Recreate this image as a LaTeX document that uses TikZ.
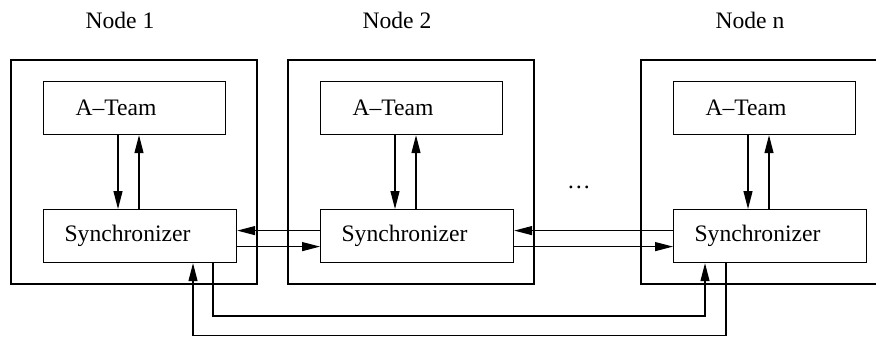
\documentclass[tikz,border=0pt]{standalone}
\usepackage{fontspec}
\setmainfont{Liberation Serif}
\usetikzlibrary{arrows.meta}
\begin{document}
\begin{tikzpicture}[x=0.5pt,y=-0.5pt,
  every node/.style={font=\fontsize{11.8}{14}\selectfont},
  line width=0.6pt,
  arr/.style={-{Triangle[length=9pt,width=4.5pt]}},
  outerbox/.style={draw, minimum width=123pt, minimum height=112pt, inner sep=0pt},
  teambox/.style={draw, anchor=north west, minimum height=26.5pt, text width=59pt, inner xsep=16pt, inner ysep=0pt, align=left},
  syncbox/.style={draw, anchor=north west, minimum height=26.5pt, text width=75.5pt, inner xsep=10.5pt, inner ysep=0pt, align=left},
  title/.style={anchor=base}]
\clip (0,0) rectangle (876,337);
\useasboundingbox (0,0) rectangle (876,337);

% three machines
\foreach \i/\x/\name in {1/43/Node 1, 2/320/Node 2, n/673/Node n}{
  \node[outerbox] (o\i) at ({\x+91},172) {};
  \node[teambox] (a\i) at (\x,81) {A--Team};
  \node[syncbox] (s\i) at (\x,209) {Synchronizer};
  \node[title] (t\i) at ({\x+77},28) {\name};
  \draw[arr] ([xshift=37.5pt]a\i.south west) -- ([xshift=37.5pt]a\i.south west |- s\i.north);
  \draw[arr] ([xshift=48pt]s\i.north west) -- ([xshift=48pt]s\i.north west |- a\i.south);
}

\node[anchor=base] (dots) at (579,188) {\dots};

% links between neighbouring synchronizers
\draw[arr] ([yshift=2.75pt]s2.west) -- ([yshift=2.75pt]s1.east);
\draw[arr] ([yshift=-5.25pt]s1.east) -- ([yshift=-5.25pt]s2.west);
\draw[arr] ([yshift=2.75pt]sn.west) -- ([yshift=2.75pt]s2.east);
\draw[arr] ([yshift=-5.25pt]s2.east) -- ([yshift=-5.25pt]sn.west);

% wrap-around links underneath
\coordinate (busA) at (0,316);
\coordinate (busB) at (0,335.5);
\draw[arr] ([xshift=85pt]s1.south west) -- ([xshift=85pt]s1.south west |- busA)
  -- ([xshift=16pt]sn.south west |- busA) -- ([xshift=16pt]sn.south west);
\draw[arr] ([xshift=26.5pt]sn.south west) -- ([xshift=26.5pt]sn.south west |- busB)
  -- ([xshift=75pt]s1.south west |- busB) -- ([xshift=75pt]s1.south west);
\end{tikzpicture}
\end{document}
